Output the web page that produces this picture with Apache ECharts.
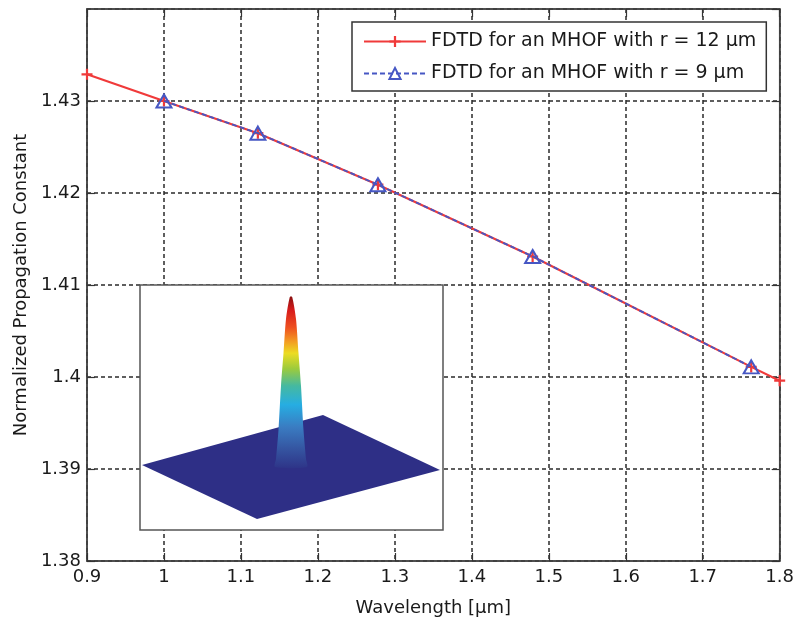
<!DOCTYPE html>
<html>
<head>
<meta charset="utf-8">
<script src="https://cdn.jsdelivr.net/npm/echarts/dist/echarts.min.js"></script>
<style>
  html, body { margin: 0; padding: 0; background: #fff; }
  #chart { width: 797px; height: 627px; }
</style>
</head>
<body>
<div id="chart"></div>
<script>
// ---- Data ----
const xTicks = [0.9, 1.0, 1.1, 1.2, 1.3, 1.4, 1.5, 1.6, 1.7, 1.8];
const yTicks = [1.38, 1.39, 1.40, 1.41, 1.42, 1.43];
const seriesNames = ['FDTD for an MHOF with r = 12 µm', 'FDTD for an MHOF with r = 9 µm'];
const wavelengthR12 = [0.9, 1.0, 1.122, 1.278, 1.479, 1.763, 1.8];
const betaR12 = [1.4329, 1.4300, 1.4265, 1.4209, 1.4131, 1.4011, 1.3996];
const wavelengthR9 = [1.0, 1.122, 1.278, 1.479, 1.763];
const betaR9 = [1.4300, 1.4265, 1.4209, 1.4131, 1.4011];

// Inset (mode field picture), in the inset's own local units
const insetPlaneX = [2, 117, 300, 183];
const insetPlaneY = [180, 234, 185, 130];
const spikeCenterX = [151];
const spikeLevels = [182, 174, 145, 101, 68, 34, 12];
const spikeHalfWidths = [16, 15, 12.5, 10, 7.5, 5, 1.2];

const FONT = 'DejaVu Sans';
const TXT = '#1a1a1a';

const chart = echarts.init(document.getElementById('chart'), null, { renderer: 'canvas' });

const plusSymbol = 'path://M4,0h2v4h4v2h-4v4h-2v-4h-4v-2h4z';

const option = {
  animation: false,
  backgroundColor: '#fff',
  textStyle: { fontFamily: FONT },
  legend: {
    left: 352, top: 22,
    orient: 'vertical',
    padding: [10, 10, 8, 11],
    itemGap: 13,
    itemWidth: 62,
    itemHeight: 14,
    backgroundColor: '#fff',
    borderColor: '#333',
    borderWidth: 1.5,
    borderRadius: 0,
    textStyle: { fontFamily: FONT, fontSize: 19, color: TXT },
    data: seriesNames
  },
  grid: [
    { left: 87, right: 17, top: 9, bottom: 66, show: true, borderColor: '#444', borderWidth: 1.5, backgroundColor: 'transparent' },
    { left: 140, top: 285, width: 303, height: 245, show: true, z: 10, backgroundColor: '#fff', borderColor: '#555', borderWidth: 1.5 }
  ],
  xAxis: [
    {
      type: 'value', gridIndex: 0, min: xTicks[0], max: xTicks[xTicks.length - 1], interval: 0.1,
      name: 'Wavelength [µm]', nameLocation: 'middle', nameGap: 38,
      nameTextStyle: { fontFamily: FONT, fontSize: 18, color: TXT },
      axisLine: { show: true, lineStyle: { color: '#444', width: 1.5 } },
      axisTick: { show: true, inside: true, length: 8, lineStyle: { color: '#333', width: 1.2 } },
      axisLabel: { fontFamily: FONT, fontSize: 18, color: TXT, margin: 7 },
      splitLine: { show: true, lineStyle: { color: '#2a2a2a', type: [4, 3], width: 1.5 } }
    },
    {
      type: 'value', gridIndex: 0, position: 'top', min: xTicks[0], max: xTicks[xTicks.length - 1], interval: 0.1,
      axisLine: { show: true, lineStyle: { color: '#444', width: 1.5 } },
      axisTick: { show: true, inside: true, length: 8, lineStyle: { color: '#333', width: 1.2 } },
      axisLabel: { show: false }, splitLine: { show: false }
    },
    { type: 'value', gridIndex: 1, min: 0, max: 303, show: false }
  ],
  yAxis: [
    {
      type: 'value', gridIndex: 0, min: yTicks[0], max: 1.44, interval: 0.01,
      name: 'Normalized Propagation Constant', nameLocation: 'middle', nameGap: 56,
      nameTextStyle: { fontFamily: FONT, fontSize: 18, color: TXT },
      axisLine: { show: true, lineStyle: { color: '#444', width: 1.5 } },
      axisTick: { show: true, inside: true, length: 8, lineStyle: { color: '#333', width: 1.2 } },
      axisLabel: {
        fontFamily: FONT, fontSize: 18, color: TXT, margin: 6,
        showMaxLabel: false,
        formatter: v => {
          const r = Math.round(v * 100) / 100;
          return yTicks.some(t => Math.abs(t - r) < 1e-9) ? String(r) : '';
        }
      },
      splitLine: { show: true, lineStyle: { color: '#2a2a2a', type: [4, 3], width: 1.5 } }
    },
    {
      type: 'value', gridIndex: 0, position: 'right', min: yTicks[0], max: 1.44, interval: 0.01,
      axisLine: { show: true, lineStyle: { color: '#444', width: 1.5 } },
      axisTick: { show: true, inside: true, length: 8, lineStyle: { color: '#333', width: 1.2 } },
      axisLabel: { show: false }, splitLine: { show: false }
    },
    { type: 'value', gridIndex: 1, min: 0, max: 245, inverse: true, show: false }
  ],
  series: [
    {
      name: seriesNames[0], type: 'line', xAxisIndex: 0, yAxisIndex: 0,
      data: wavelengthR12.map((x, i) => [x, betaR12[i]]),
      symbol: plusSymbol, symbolSize: 11, showAllSymbol: true,
      lineStyle: { color: '#f03a3a', width: 2.2 },
      itemStyle: { color: '#f03a3a' },
      z: 3
    },
    {
      name: seriesNames[1], type: 'line', xAxisIndex: 0, yAxisIndex: 0,
      data: wavelengthR9.map((x, i) => [x, betaR9[i]]),
      symbol: 'triangle', symbolSize: [15, 13], showAllSymbol: true,
      lineStyle: { color: '#4657c4', width: 1.8, type: [5, 3] },
      itemStyle: { color: 'rgba(255,255,255,0)', borderColor: '#4657c4', borderWidth: 2 },
      z: 4
    },
    {
      type: 'custom', xAxisIndex: 2, yAxisIndex: 2, z: 12, silent: true,
      data: [[insetPlaneX[0], insetPlaneY[0]]],
      renderItem: (params, api) => {
        const pts = insetPlaneX.map((x, i) => api.coord([x, insetPlaneY[i]]));
        return { type: 'polygon', shape: { points: pts }, style: { fill: '#2e2f86' } };
      }
    },
    {
      type: 'custom', xAxisIndex: 2, yAxisIndex: 2, z: 13, silent: true,
      data: [[spikeCenterX[0], spikeLevels[0]]],
      renderItem: (params, api) => {
        const cx = spikeCenterX[0];
        const left = spikeLevels.map((h, i) => api.coord([cx - spikeHalfWidths[i], h]));
        const right = spikeLevels.map((h, i) => api.coord([cx + spikeHalfWidths[i], h])).reverse();
        const pts = left.concat(right);
        return {
          type: 'polygon',
          shape: { points: pts, smooth: 0.25 },
          style: {
            fill: new echarts.graphic.LinearGradient(0, 0, 0, 1, [
              { offset: 0.00, color: '#8a1010' },
              { offset: 0.08, color: '#d81c1c' },
              { offset: 0.18, color: '#ee5020' },
              { offset: 0.26, color: '#f39a22' },
              { offset: 0.33, color: '#ecdc22' },
              { offset: 0.42, color: '#9ccb3c' },
              { offset: 0.52, color: '#45b9a0' },
              { offset: 0.63, color: '#26ade2' },
              { offset: 0.76, color: '#3a7cc2' },
              { offset: 0.90, color: '#34519e' },
              { offset: 1.00, color: '#2e3488' }
            ])
          }
        };
      }
    }
  ]
};

chart.setOption(option);
</script>
</body>
</html>
